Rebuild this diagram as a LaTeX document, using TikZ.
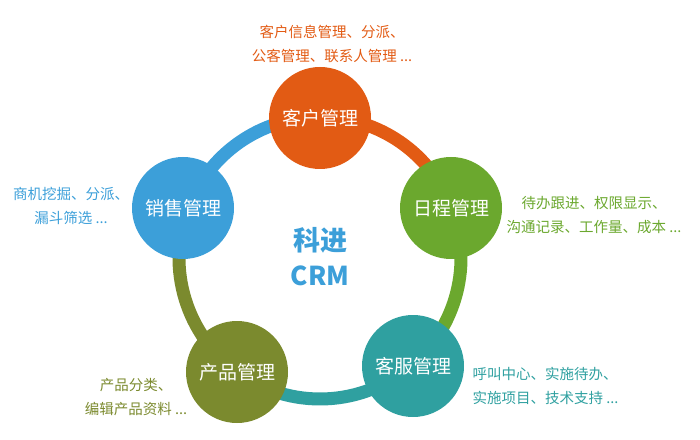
\documentclass[tikz,border=0pt]{standalone}
\usepackage{fontspec}
\setmainfont{Noto Sans CJK SC}
\definecolor{cOrange}{HTML}{E25B14}
\definecolor{cGreen}{HTML}{6BA82E}
\definecolor{cBlue}{HTML}{3C9FD9}
\definecolor{cOlive}{HTML}{7B8A2E}
\definecolor{cTeal}{HTML}{2FA0A0}
\tikzset{
  hub/.style={circle, minimum size=102pt, inner sep=0pt, text=white, font=\fontsize{19}{22}\selectfont},
  desc/.style={align=center, font=\fontsize{14.5}{24}\selectfont},
  ring/.style={line width=13pt}
}
\begin{document}
\begin{tikzpicture}[x=1pt,y=1pt]
\useasboundingbox (0,0) rectangle (700,439);
\coordinate (C) at (320,181);
\def\R{141}
% ring segments
\draw[ring, cBlue]  ([shift={(160:\R)}]C) arc (160:90:\R);
\draw[ring, cOrange] ([shift={(90:\R)}]C) arc (90:20.9:\R);
\draw[ring, cGreen] ([shift={(20.9:\R)}]C) arc (20.9:-49.3:\R);
\draw[ring, cTeal]  ([shift={(-49.3:\R)}]C) arc (-49.3:-126:\R);
\draw[ring, cOlive] ([shift={(-126:\R)}]C) arc (-126:-200:\R);
% hubs
\node[hub, fill=cOrange] (kh) at (320,321) {客户管理};
\node[hub, fill=cGreen]  (rc) at (451,231) {日程管理};
\node[hub, fill=cTeal]   (kf) at (413,73)  {客服管理};
\node[hub, fill=cOlive]  (cp) at (237,67)  {产品管理};
\node[hub, fill=cBlue]   (xs) at (183,231) {销售管理};
% centre title
\node[text=cBlue, font=\fontsize{27}{30}\selectfont\bfseries] (t1) at (320,199) {科进};
\node[text=cBlue, font=\fontsize{26}{30}\selectfont\bfseries] (t2) at (320,163) {CRM};
% descriptions
\node[desc, text=cOrange] (dkh) at (332,395) {客户信息管理、分派、\\公客管理、联系人管理 ...};
\node[desc, text=cGreen]  (drc) at (594,224) {待办跟进、权限显示、\\沟通记录、工作量、成本 ...};
\node[desc, text=cBlue]   (dxs) at (71,233)  {商机挖掘、分派、\\漏斗筛选 ...};
\node[desc, text=cOlive]  (dcp) at (136,42)  {产品分类、\\编辑产品资料 ...};
\node[desc, text=cTeal, align=left, anchor=west] (dkf) at (469,53) {呼叫中心、实施待办、\\实施项目、技术支持 ...};
\end{tikzpicture}
\end{document}
